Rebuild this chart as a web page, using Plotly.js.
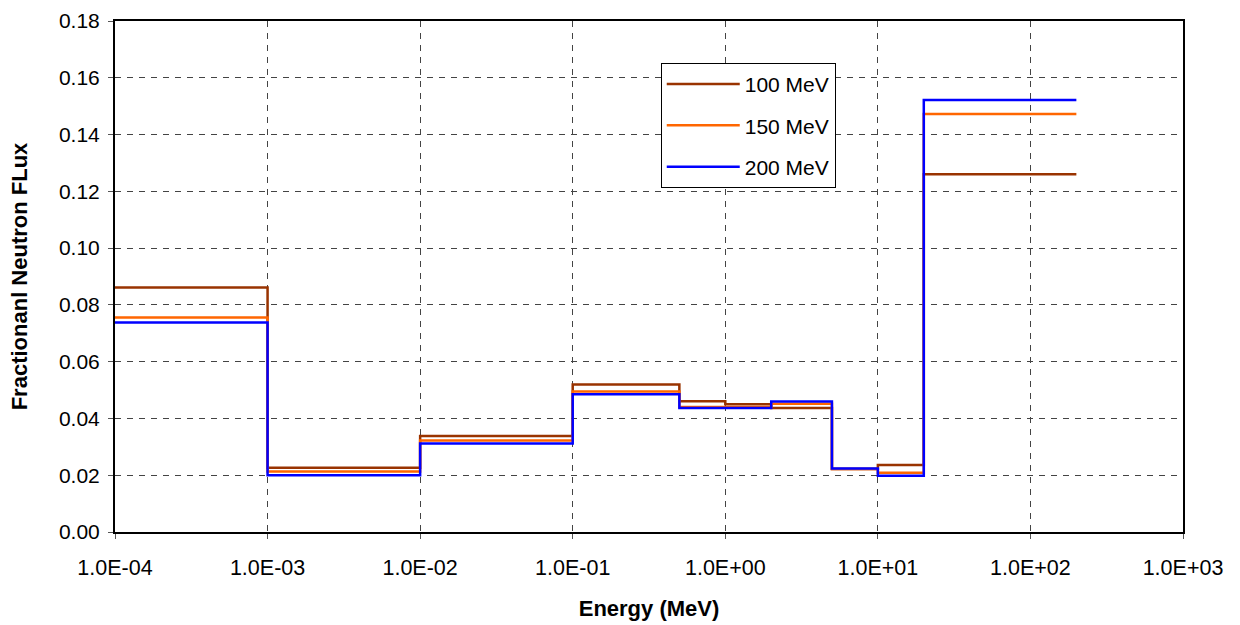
<!DOCTYPE html>
<html>
<head>
<meta charset="utf-8">
<script src="https://cdn.plot.ly/plotly-3.0.1.min.js"></script>
<style>html,body{margin:0;padding:0;background:#fff;}#chart{width:1240px;height:625px;}</style>
</head>
<body>
<div id="chart"></div>
<script>
// Bin edges (MeV)
const energyEdges = [1e-4, 1e-3, 1e-2, 1e-1, 0.5, 1, 2, 5, 10, 20, 200];
// Fractional flux per bin (last value repeated to close the final step)
const flux100 = [0.0861, 0.0226, 0.0338, 0.0520, 0.0461, 0.0450, 0.0437, 0.0222, 0.0236, 0.1260, 0.1260];
const flux150 = [0.0756, 0.0213, 0.0322, 0.0495, 0.0440, 0.0440, 0.0452, 0.0222, 0.0209, 0.1472, 0.1472];
const flux200 = [0.0738, 0.0200, 0.0312, 0.0485, 0.0437, 0.0437, 0.0460, 0.0224, 0.0198, 0.1522, 0.1522];
const seriesNames = ['100 MeV', '150 MeV', '200 MeV'];
const seriesColors = ['#993300', '#FF6600', '#0000FF'];
const xTickVals = [1e-4, 1e-3, 1e-2, 1e-1, 1, 10, 100, 1000];
const xTickText = ['1.0E-04', '1.0E-03', '1.0E-02', '1.0E-01', '1.0E+00', '1.0E+01', '1.0E+02', '1.0E+03'];
const yTickVals = [0, 0.02, 0.04, 0.06, 0.08, 0.10, 0.12, 0.14, 0.16, 0.18];

const allSeries = [flux100, flux150, flux200];
const traces = allSeries.map((ys, i) => ({
  x: energyEdges,
  y: ys,
  type: 'scatter',
  mode: 'lines',
  line: {shape: 'hv', color: seriesColors[i], width: 2.5},
  name: seriesNames[i],
  legendgroup: 'g' + i
}));

const font = {family: 'Liberation Sans, Arial, sans-serif', color: '#000'};
const layout = {
  width: 1240, height: 625,
  margin: {l: 115, r: 57, t: 21, b: 93, pad: 0},
  paper_bgcolor: '#fff', plot_bgcolor: '#fff',
  font: Object.assign({size: 21}, font),
  showlegend: true,
  legend: {
    x: 0.511, y: 0.918, xanchor: 'left', yanchor: 'top',
    bordercolor: '#000', borderwidth: 1, bgcolor: '#fff',
    font: Object.assign({size: 21}, font),
    traceorder: 'grouped', tracegroupgap: 11,
    itemwidth: 73,
    entrywidth: 185, entrywidthmode: 'pixels'
  },
  xaxis: {
    type: 'log',
    range: [-4, 3],
    tickvals: xTickVals, ticktext: xTickText,
    showgrid: true, gridcolor: '#444', griddash: '6px,6px', gridwidth: 1,
    showline: true, linecolor: '#000', linewidth: 2, mirror: true,
    ticks: 'outside', ticklen: 5, tickcolor: '#555',
    ticklabelstandoff: 10,
    tickfont: Object.assign({size: 21.5}, font),
    zeroline: false,
    title: {text: '<b>Energy (MeV)</b>', font: Object.assign({size: 22}, font), standoff: 22}
  },
  yaxis: {
    range: [0, 0.18],
    tickvals: yTickVals,
    tickformat: '.2f',
    showgrid: true, gridcolor: '#444', griddash: '6px,6px', gridwidth: 1,
    showline: true, linecolor: '#000', linewidth: 2, mirror: true,
    ticks: 'outside', ticklen: 5, tickcolor: '#555',
    ticklabelstandoff: 4,
    tickfont: Object.assign({size: 21}, font),
    zeroline: false,
    title: {text: '<b>Fractionanl Neutron FLux</b>', font: Object.assign({size: 22}, font), standoff: 25}
  }
};

Plotly.newPlot('chart', traces, layout, {displayModeBar: false, staticPlot: true});
</script>
</body>
</html>
